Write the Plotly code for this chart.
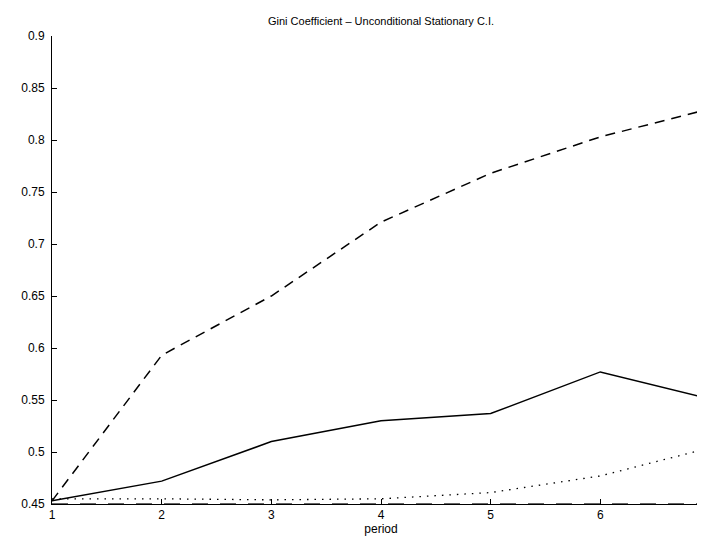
import plotly.graph_objects as go

periods = [1, 2, 3, 4, 5, 6, 7]
upper = [0.453, 0.593, 0.650, 0.721, 0.768, 0.803, 0.830]
gini = [0.453, 0.472, 0.510, 0.530, 0.537, 0.577, 0.551]
median_ci = [0.455, 0.455, 0.454, 0.455, 0.461, 0.477, 0.504]
lower = [0.45, 0.45, 0.45, 0.45, 0.45, 0.45, 0.45]

ytick_vals = [0.45, 0.5, 0.55, 0.6, 0.65, 0.7, 0.75, 0.8, 0.85, 0.9]
ytick_text = ["0.45", "0.5", "0.55", "0.6", "0.65", "0.7", "0.75", "0.8", "0.85", "0.9"]
xtick_vals = [1, 2, 3, 4, 5, 6, 7]
xtick_text = ["1", "2", "3", "4", "5", "6", "7"]

title_text = "Gini Coefficient \u2013 Unconditional Stationary C.I."
xlabel = "period"

FONT = "Liberation Sans, Arial, Helvetica, sans-serif"

fig = go.Figure()
fig.add_trace(go.Scatter(x=periods, y=lower, mode="lines",
                         line=dict(color="#333333", width=1.5, dash="16px,12px"),
                         showlegend=False, hoverinfo="skip"))
fig.add_trace(go.Scatter(x=periods, y=median_ci, mode="lines",
                         line=dict(color="black", width=1.3, dash="1.5px,6px"),
                         showlegend=False))
fig.add_trace(go.Scatter(x=periods, y=gini, mode="lines",
                         line=dict(color="black", width=1.5),
                         showlegend=False))
fig.add_trace(go.Scatter(x=periods, y=upper, mode="lines",
                         line=dict(color="black", width=1.5, dash="10px,7px"),
                         showlegend=False))

fig.update_layout(
    width=705, height=538,
    margin=dict(l=44, r=3, t=28, b=42),
    paper_bgcolor="white", plot_bgcolor="white",
    font=dict(family=FONT, size=12, color="black"),
    title=dict(text=title_text, x=0.5, xref="paper", y=1 - 13 / 538,
               yref="container", xanchor="center", yanchor="middle",
               font=dict(family=FONT, size=11, color="black")),
    showlegend=False,
)
fig.update_xaxes(range=[1, 7], tickvals=xtick_vals, ticktext=xtick_text,
                 ticks="inside", ticklen=5, tickcolor="black", showgrid=False,
                 zeroline=False, showline=True, linecolor="black", linewidth=1,
                 title=dict(text=xlabel, standoff=2, font=dict(size=12)),
                 tickfont=dict(size=12))
fig.update_yaxes(range=[0.45, 0.9], tickvals=ytick_vals, ticktext=ytick_text,
                 ticks="inside", ticklen=5, tickcolor="black", showgrid=False,
                 zeroline=False, showline=True, linecolor="black", linewidth=1,
                 ticklabelstandoff=4, tickfont=dict(size=12))

fig.write_html("out.html")
